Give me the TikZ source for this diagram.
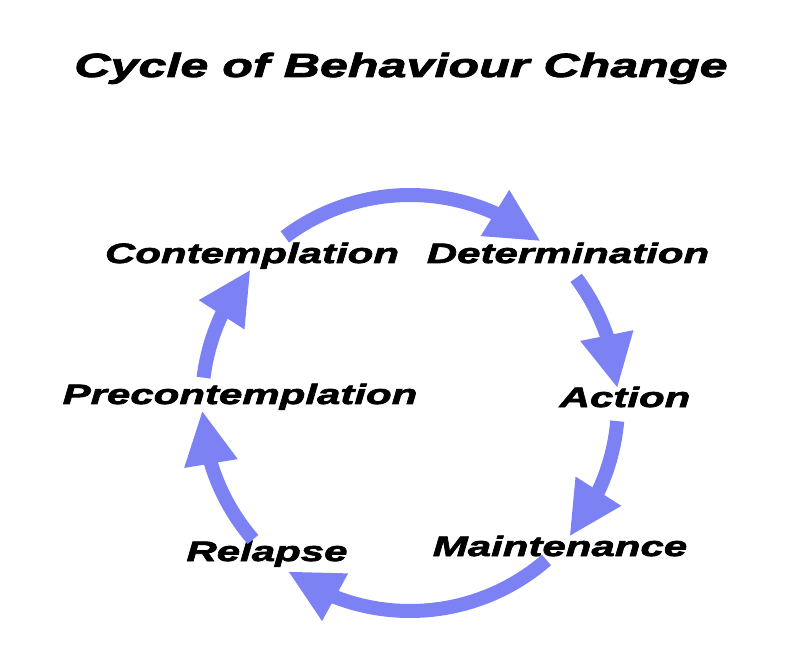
\documentclass[tikz,border=0pt]{standalone}
\usepackage{fontspec}
\usepackage{xcolor}
\newfontfamily\stagefont{Liberation Sans}[FakeStretch=1.5,FakeBold=2.5]
\usetikzlibrary{arrows.meta,bending}
\definecolor{arrowblue}{RGB}{124,130,244}

\begin{document}
\begin{tikzpicture}[x=1pt,y=1pt,
  stage/.style={font=\stagefont\bfseries\itshape\fontsize{28}{28}\selectfont,anchor=base,inner sep=0pt},
  cyc/.style={draw=arrowblue,line width=14pt,-{Triangle[width=50pt,length=54pt]}}]
  \useasboundingbox (0,0) rectangle (800,670);
  \node[stage,font=\stagefont\bfseries\itshape\fontsize{33.5}{33.5}\selectfont] (title) at (401,593) {Cycle of Behaviour Change};
  \node[stage] (contemp) at (252,407) {Contemplation};
  \node[stage] (determ) at (568,407) {Determination};
  \node[stage] (precon) at (240,266) {Precontemplation};
  \node[stage] (action) at (625,263) {Action};
  \node[stage] (relapse) at (267,109) {Relapse};
  \node[stage] (maint) at (560,114) {Maintenance};
  \coordinate (hub) at (410,267);
  % arrows round the cycle
  \draw[cyc] ([shift={(127:208)}]hub) arc[start angle=127,end angle=51,radius=208];
  \draw[cyc] ([shift={(37:208)}]hub) arc[start angle=37,end angle=4,radius=208];
  \draw[cyc] ([shift={(-5:208)}]hub) arc[start angle=-5,end angle=-40,radius=208];
  \draw[cyc] ([shift={(-49:208)}]hub) arc[start angle=-49,end angle=-126,radius=208];
  \draw[cyc] ([shift={(-139:208)}]hub) arc[start angle=-139,end angle=-178,radius=208];
  \draw[cyc] ([shift={(173:208)}]hub) arc[start angle=173,end angle=140,radius=208];
\end{tikzpicture}
\end{document}
